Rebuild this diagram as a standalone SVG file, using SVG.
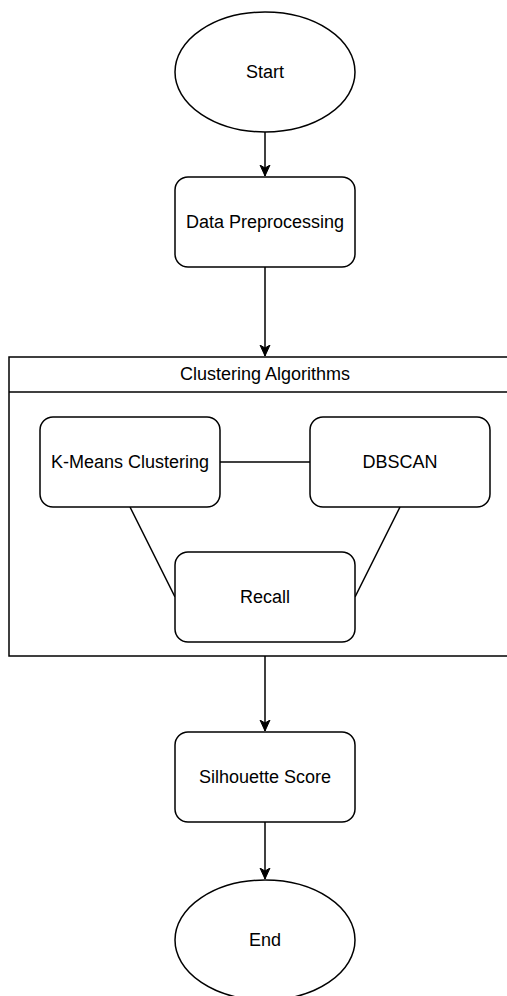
<svg xmlns="http://www.w3.org/2000/svg" width="507" height="996" viewBox="0 0 507 996">
<style>
.shape{fill:#fff;stroke:#000;stroke-width:1.5}
.lbl{font-family:"Liberation Sans",Arial,sans-serif;font-size:18px;fill:#000;text-anchor:middle;dominant-baseline:central}
.edge{fill:none;stroke:#000;stroke-width:1.5}
</style>
<defs>
<marker id="arr" markerUnits="userSpaceOnUse" markerWidth="12" markerHeight="12" viewBox="0 0 12 12" refX="11" refY="6" orient="auto">
<path d="M0,1 L11,6 L0,11 L3,6 Z" fill="#000" stroke="#000" stroke-width="1"/>
</marker>
</defs>
<rect width="507" height="996" fill="#fff"/>
<g id="container">
<rect class="shape" x="9" y="357" width="512" height="299"/>
<line class="edge" x1="9" y1="392" x2="521" y2="392"/>
<text class="lbl" x="265" y="374">Clustering Algorithms</text>
</g>
<g id="connectors">
<line class="edge" x1="265" y1="132" x2="265" y2="176" marker-end="url(#arr)"/>
<line class="edge" x1="265" y1="267" x2="265" y2="356" marker-end="url(#arr)"/>
<line class="edge" x1="265" y1="656" x2="265" y2="731" marker-end="url(#arr)"/>
<line class="edge" x1="265" y1="822" x2="265" y2="879" marker-end="url(#arr)"/>
<line class="edge" x1="220" y1="462" x2="310" y2="462"/>
<line class="edge" x1="130" y1="507" x2="175" y2="597"/>
<line class="edge" x1="400" y1="507" x2="355" y2="597"/>
</g>
<g id="start">
<ellipse class="shape" cx="265" cy="72" rx="90" ry="60"/>
<text class="lbl" x="265" y="72">Start</text>
</g>
<g id="preprocessing">
<rect class="shape" x="175" y="177" width="180" height="90" rx="13"/>
<text class="lbl" x="265" y="222">Data Preprocessing</text>
</g>
<g id="kmeans">
<rect class="shape" x="40" y="417" width="180" height="90" rx="13"/>
<text class="lbl" x="130" y="462">K-Means Clustering</text>
</g>
<g id="dbscan">
<rect class="shape" x="310" y="417" width="180" height="90" rx="13"/>
<text class="lbl" x="400" y="462">DBSCAN</text>
</g>
<g id="recall">
<rect class="shape" x="175" y="552" width="180" height="90" rx="13"/>
<text class="lbl" x="265" y="597">Recall</text>
</g>
<g id="silhouette">
<rect class="shape" x="175" y="732" width="180" height="90" rx="13"/>
<text class="lbl" x="265" y="777">Silhouette Score</text>
</g>
<g id="end">
<ellipse class="shape" cx="265" cy="940" rx="90" ry="60"/>
<text class="lbl" x="265" y="940">End</text>
</g>
</svg>
